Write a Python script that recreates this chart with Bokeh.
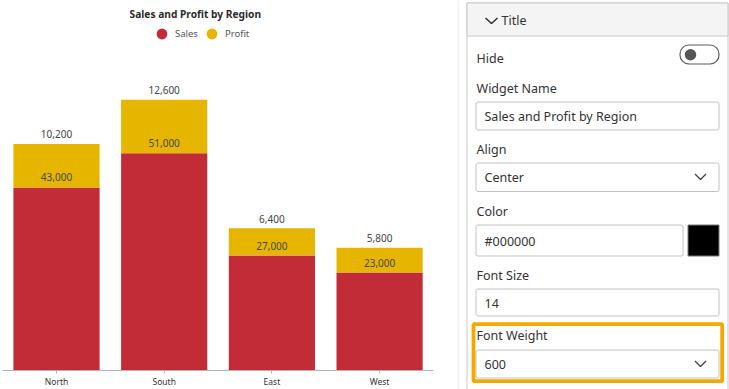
from bokeh.plotting import figure
from bokeh.models import ColumnDataSource, Range1d, FixedTicker, Legend, LegendItem, Label
from bokeh.layouts import row
from bokeh.embed import file_html
from bokeh.resources import INLINE
from bokeh.core.properties import value

# ---------------- data ----------------
regions = ["North", "South", "East", "West"]
sales = [43000, 51000, 27000, 23000]
profit = [10200, 12600, 6400, 5800]
series = ["Sales", "Profit"]
colors = ["#c12c36", "#e5b500"]
chart_title = "Sales and Profit by Region"

# settings panel texts
panel_header = "Title"
panel_labels = ["Hide", "Widget Name", "Align", "Color", "Font Size", "Font Weight"]
panel_values = ["Sales and Profit by Region", "Center", "#000000", "14", "600"]

FONT = "Noto Sans"
FRAME_H = 371  # chart frame height (axis border takes the rest)

idx = list(range(len(regions)))
total = [s + q for s, q in zip(sales, profit)]
src = ColumnDataSource(dict(
    x=idx, sales=sales, profit=profit, total=total,
    sales_lbl=[f"{v:,}" for v in sales],
    profit_lbl=[f"{v:,}" for v in profit],
))

# ---------------- chart ----------------
p = figure(width=457, height=389, output_backend="svg", toolbar_location=None,
           x_range=Range1d(-0.5014, 3.5005), y_range=Range1d(0, FRAME_H / 4.27 * 1000),
           y_axis_location=None,
           min_border_left=2, min_border_right=24, min_border_top=0,
           min_border_bottom=389 - FRAME_H)
p.frame_align = False
p.outline_line_color = None
p.xgrid.visible = False
p.ygrid.visible = False

p.vbar(x="x", width=0.8, bottom=0, top="sales", source=src,
       fill_color=colors[0], line_color=None)
p.vbar(x="x", width=0.8, bottom="sales", top="total", source=src,
       fill_color=colors[1], line_color=None)

p.text(x="x", y="sales", text="sales_lbl", source=src, text_align="center",
       text_baseline="middle", y_offset=-10, text_font=value(FONT),
       text_font_size="10px", text_color="#4a4a4a")
p.text(x="x", y="total", text="profit_lbl", source=src, text_align="center",
       text_baseline="middle", y_offset=-9.5, text_font=value(FONT),
       text_font_size="10px", text_color="#444444")

ax = p.xaxis[0]
ax.ticker = FixedTicker(ticks=idx)
ax.major_label_overrides = {i: r for i, r in zip(idx, regions)}
ax.axis_line_color = "#b4b4b4"
ax.major_tick_line_color = "#b4b4b4"
ax.major_tick_in = 0
ax.major_tick_out = 3
ax.minor_tick_line_color = None
ax.major_label_standoff = 2
ax.major_label_text_font = FONT
ax.major_label_text_font_size = "8.5px"
ax.major_label_text_color = "#333333"

# legend (circle markers; zero-size markers in the plot itself)
rs = p.scatter(x="x", y="sales", source=src, size=0, marker="circle",
               fill_color=colors[0], line_color=None)
rp = p.scatter(x="x", y="total", source=src, size=0, marker="circle",
               fill_color=colors[1], line_color=None)
legend = Legend(items=[LegendItem(label=series[0], renderers=[rs]),
                       LegendItem(label=series[1], renderers=[rp])],
                orientation="horizontal", location=(146, FRAME_H - 47.5),
                glyph_width=27, glyph_height=27, label_height=27,
                label_standoff=0, spacing=0, padding=0, margin=0,
                border_line_color=None, background_fill_alpha=0,
                label_text_font=FONT, label_text_font_size="9.5px",
                label_text_color="#555555")
p.add_layout(legend)

p.add_layout(Label(x=192.8, y=FRAME_H - 14, x_units="screen", y_units="screen",
                   text=chart_title, text_align="center", text_baseline="middle",
                   text_font=FONT, text_font_style="bold", text_font_size="10.2px",
                   text_color="#2b2b2b"))

# ---------------- settings panel ----------------
q = figure(width=272, height=389, output_backend="svg", toolbar_location=None,
           x_range=Range1d(457, 729), y_range=Range1d(389, 0),
           x_axis_location=None, y_axis_location=None,
           min_border_left=0, min_border_right=0, min_border_top=0, min_border_bottom=0)
q.frame_align = False
q.outline_line_color = None
q.xgrid.visible = False
q.ygrid.visible = False

BORDER = "#c8c8c8"
TXT = "#333333"
FS = "12.5px"

# separator line
q.line(x=[457.5, 457.5], y=[0, 400], line_color="#e2e2e2", line_width=1)
# panel box
q.quad(left=466.5, right=727.5, top=2.5, bottom=420, fill_color="white", line_color=BORDER)
q.quad(left=466.5, right=727.5, top=2.5, bottom=35.5, fill_color="#f4f4f4", line_color=BORDER)
# header chevron + text
q.line(x=[485, 491, 497], y=[17.5, 23, 17.5], line_color=TXT, line_width=1.6)
q.text(x=[501], y=[20], text=[panel_header], text_baseline="middle",
       text_font=value(FONT), text_font_size=FS, text_color=TXT)

# labels
q.text(x=[476] * 6, y=[57.5, 88, 148.5, 210.7, 274.5, 334.5], text=panel_labels,
       text_baseline="middle", text_font=value(FONT), text_font_size=FS, text_color=TXT)

# toggle
q.quad(left=679.5, right=718.5, top=44.5, bottom=63.5, fill_color="white",
       line_color="#5a5a5a", line_width=1.2, border_radius=9)
q.scatter(x=[690], y=[54.2], size=11.5, marker="circle", fill_color="#555555", line_color=None)

# input boxes
q.quad(left=[475.5, 475.5, 475.5, 475.5, 475.5], right=[718.5, 718.5, 682.5, 718.5, 718.5],
       top=[101.5, 162.5, 224.5, 288.5, 349.5], bottom=[129.5, 191, 255.5, 315.5, 377.5],
       fill_color="white", line_color="#c2c2c2", border_radius=2)
q.text(x=[484] * 5, y=[116, 177, 240.5, 302.5, 363.5], text=panel_values,
       text_baseline="middle", text_font=value(FONT), text_font_size=FS, text_color=TXT)
# dropdown chevrons
q.multi_line(xs=[[694.5, 700, 705.5], [694.5, 700, 705.5]],
             ys=[[173.5, 179, 173.5], [360.5, 366, 360.5]], line_color="#444444", line_width=1.4)
# color swatch
q.quad(left=687.5, right=718.5, top=224.5, bottom=255.5, fill_color="black", line_color="#777777")

# orange highlight box
q.quad(left=473, right=721.7, top=323.7, bottom=380.7, fill_color=None,
       line_color="#f4a900", line_width=3.8)

layout = row(p, q)
open("out.html", "w").write(file_html(layout, INLINE))
